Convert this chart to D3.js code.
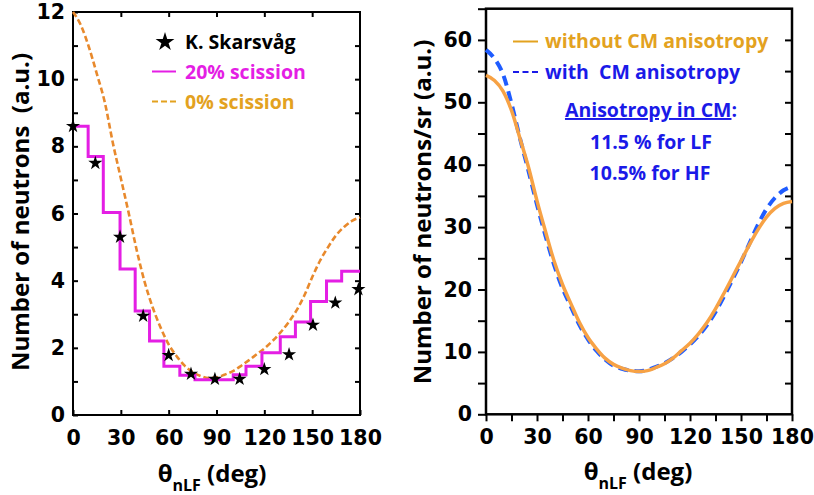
<!DOCTYPE html>
<html>
<head>
<meta charset="utf-8">
<script src="https://cdn.jsdelivr.net/npm/d3@7"></script>
<style>
  body { margin: 0; background: #fff; }
  svg { display: block; }
  .tick-label { font-family: 'DejaVu Sans', sans-serif; font-weight: bold; font-size: 20.5px; fill: #000; }
  .title { font-family: 'Open Sans', sans-serif; font-weight: bold; font-size: 24px; fill: #000; white-space: pre; }
  .legend { font-family: 'Open Sans', sans-serif; font-weight: bold; font-size: 19.5px; white-space: pre; }
</style>
</head>
<body>
<div id="wrapper"></div>
<script>
// ---------------------------------------------------
// DATA
// ---------------------------------------------------
const angleTicks = [0, 30, 60, 90, 120, 150, 180]

// left panel: K. Skarsvag data points
const starAngles = [0, 14, 29.5, 44, 60, 74, 89, 104.5, 120, 135.5, 150.5, 164.5, 179]
const starCounts = [8.6, 7.5, 5.3, 2.95, 1.78, 1.22, 1.07, 1.07, 1.36, 1.8, 2.68, 3.34, 3.74]

// left panel: 20% scission histogram (bin edges + heights)
const binEdges = [0, 9.5, 19, 29.5, 39, 48, 57, 67, 76.5, 100.5, 108.5, 118.5, 130, 139.5, 149, 159, 168.5, 180]
const binCounts = [8.6, 7.7, 6.03, 4.35, 3.1, 2.2, 1.45, 1.18, 1.05, 1.2, 1.45, 1.85, 2.33, 2.77, 3.38, 3.99, 4.28]

// left panel: 0% scission curve
const curveAngles = [0, 5, 10, 15, 20, 25, 30, 35, 40, 45, 50, 55, 60, 65, 70, 75, 80, 85, 90,
  95, 100, 105, 110, 115, 120, 125, 130, 135, 140, 145, 150, 155, 160, 165, 170, 175, 180]
const noScission = [12.0, 11.6, 10.95, 10.15, 9.3, 8.1, 7.05, 6.0, 4.9, 3.95, 3.2, 2.6, 2.1, 1.75, 1.47, 1.28, 1.16, 1.1, 1.12,
  1.2, 1.3, 1.45, 1.62, 1.8, 1.98, 2.2, 2.45, 2.75, 3.1, 3.55, 4.1, 4.6, 5.0, 5.35, 5.6, 5.78, 5.88]

// right panel: neutrons / sr
const withoutCM = [54.3, 53.5, 51.8, 48.7, 44.2, 39.6, 34.2, 29.3, 24.6, 20.8, 17.7, 14.7, 12.3, 10.5, 9.0, 8.0, 7.4, 7.0, 6.85,
  7.0, 7.5, 8.1, 9.0, 10.2, 11.4, 12.9, 14.7, 16.9, 19.4, 22.0, 24.6, 27.2, 29.6, 31.6, 33.0, 33.8, 34.1]
const withCM = [58.4, 57.0, 54.5, 49.8, 44.2, 39.0, 33.6, 28.6, 24.0, 20.2, 17.2, 14.3, 12.0, 10.2, 8.8, 7.8, 7.3, 7.0, 6.9,
  7.1, 7.6, 8.2, 9.0, 10.0, 11.2, 12.6, 14.3, 16.4, 18.9, 21.6, 24.4, 27.4, 30.4, 32.9, 34.7, 35.9, 36.5]

const leftYTicks = [0, 1, 2, 3, 4, 5, 6, 7, 8, 9, 10, 11, 12]
const rightYTicks = [0, 5, 10, 15, 20, 25, 30, 35, 40, 45, 50, 55, 60, 65]
const rightXTicks = [0, 15, 30, 45, 60, 75, 90, 105, 120, 135, 150, 165, 180]

// ---------------------------------------------------
// CANVAS
// ---------------------------------------------------
const width = 814
const height = 495
const svg = d3.select('#wrapper').append('svg').attr('width', width).attr('height', height)

const magenta = '#e41ee4'
const orangeDash = '#e8892c'
const orangeSolid = '#f7a245'
const blueDash = '#1f5cff'
const blueText = '#1a1ae8'
const goldText = '#e3a21f'

function styleAxis(g) {
  g.select('.domain').remove()
  g.selectAll('.tick line').attr('stroke', '#000').attr('stroke-width', 2)
  g.selectAll('.tick text').attr('class', 'tick-label').attr('font-size', null).attr('font-family', null)
}

function xTitle(x, y) {
  const t = svg.append('text').attr('class', 'title').attr('x', x).attr('y', y).attr('text-anchor', 'middle')
  t.append('tspan').text('θ')
  t.append('tspan').attr('dy', 9).attr('font-size', 16).text('nLF')
  t.append('tspan').attr('dy', -9).text(' (deg)')
}

// ---------------------------------------------------
// LEFT PANEL
// ---------------------------------------------------
{
  const x = d3.scaleLinear().domain([0, 180]).range([73, 360])
  const y = d3.scaleLinear().domain([0, 12]).range([415, 12])
  const g = svg.append('g')

  g.append('g').attr('transform', `translate(0,${y(0)})`)
    .call(d3.axisBottom(x).tickValues(angleTicks).tickSizeInner(-5).tickSizeOuter(0).tickPadding(15))
    .call(styleAxis)
  g.append('g').attr('transform', `translate(0,${y(12)})`)
    .call(d3.axisTop(x).tickValues(angleTicks.slice(1, -1)).tickSize(-5).tickFormat(''))
    .call(styleAxis)
  g.append('g').attr('transform', `translate(${x(0)},0)`)
    .call(d3.axisLeft(y).tickValues(leftYTicks).tickSizeInner(-5).tickSizeOuter(0).tickPadding(8)
      .tickFormat((d) => (d % 2 === 0 ? d : '')))
    .call(styleAxis)
  g.append('g').attr('transform', `translate(${x(180)},0)`)
    .call(d3.axisRight(y).tickValues(leftYTicks.slice(1, -1)).tickSize(-5).tickFormat(''))
    .call(styleAxis)

  g.append('rect')
    .attr('x', x(0)).attr('y', y(12))
    .attr('width', x(180) - x(0)).attr('height', y(0) - y(12))
    .attr('fill', 'none').attr('stroke', '#000').attr('stroke-width', 2)

  // 0% scission
  const line = d3.line().x((d) => x(d[0])).y((d) => y(d[1])).curve(d3.curveMonotoneX)
  g.append('path')
    .datum(curveAngles.map((a, i) => [a, noScission[i]]))
    .attr('d', line)
    .attr('fill', 'none').attr('stroke', orangeDash).attr('stroke-width', 2.6)
    .attr('stroke-dasharray', '6,3')

  // 20% scission histogram
  const steps = []
  binCounts.forEach((c, i) => { steps.push([binEdges[i], c]); steps.push([binEdges[i + 1], c]) })
  g.append('path')
    .datum(steps)
    .attr('d', d3.line().x((d) => x(d[0])).y((d) => y(d[1])))
    .attr('fill', 'none').attr('stroke', magenta).attr('stroke-width', 3)

  // data stars
  const star = d3.symbol().type(d3.symbolStar).size(62)
  g.selectAll('.star')
    .data(starAngles.map((a, i) => [a, starCounts[i]]))
    .join('path')
    .attr('class', 'star')
    .attr('d', star)
    .attr('transform', (d) => `translate(${x(d[0])},${y(d[1])})`)
    .attr('fill', '#000')

  // legend
  g.append('path').attr('d', d3.symbol().type(d3.symbolStar).size(110))
    .attr('transform', 'translate(165,42)').attr('fill', '#000')
  g.append('text').attr('class', 'legend').attr('x', 185).attr('y', 49).attr('fill', '#000').text('K. Skarsvåg')
  g.append('line').attr('x1', 152).attr('x2', 176).attr('y1', 71.5).attr('y2', 71.5)
    .attr('stroke', magenta).attr('stroke-width', 2)
  g.append('text').attr('class', 'legend').attr('x', 185).attr('y', 79).attr('fill', magenta).text('20% scission')
  g.append('line').attr('x1', 152).attr('x2', 176).attr('y1', 101.5).attr('y2', 101.5)
    .attr('stroke', goldText).attr('stroke-width', 2).attr('stroke-dasharray', '6,3')
  g.append('text').attr('class', 'legend').attr('x', 185).attr('y', 109).attr('fill', goldText).text('0% scission')

  // titles
  svg.append('text').attr('class', 'title')
    .attr('transform', 'translate(29,212) rotate(-90)')
    .attr('text-anchor', 'middle')
    .text('Number of neutrons  (a.u.)')
  xTitle(212, 482)
}

// ---------------------------------------------------
// RIGHT PANEL
// ---------------------------------------------------
{
  const x = d3.scaleLinear().domain([0, 180]).range([486, 792])
  const y = d3.scaleLinear().domain([0, 65]).range([414.3, 8.7])
  const g = svg.append('g')

  g.append('g').attr('transform', `translate(0,${y(0)})`)
    .call(d3.axisBottom(x).tickValues(rightXTicks).tickSizeInner(7).tickSizeOuter(0).tickPadding(8)
      .tickFormat((d) => (d % 30 === 0 ? d : '')))
    .call(styleAxis)
  g.append('g').attr('transform', `translate(${x(0)},0)`)
    .call(d3.axisLeft(y).tickValues(rightYTicks).tickSizeInner(8).tickSizeOuter(0).tickPadding(6)
      .tickFormat((d) => (d % 10 === 0 ? d : '')))
    .call(styleAxis)
  g.append('g').attr('transform', `translate(${x(180)},0)`)
    .call(d3.axisRight(y).tickValues(rightYTicks.slice(1, -1)).tickSize(-7).tickFormat(''))
    .call(styleAxis)

  g.append('rect')
    .attr('x', x(0)).attr('y', y(65))
    .attr('width', x(180) - x(0)).attr('height', y(0) - y(65))
    .attr('fill', 'none').attr('stroke', '#000').attr('stroke-width', 2.5)

  const line = d3.line().x((d) => x(d[0])).y((d) => y(d[1])).curve(d3.curveMonotoneX)
  g.append('path')
    .datum(curveAngles.map((a, i) => [a, withCM[i]]))
    .attr('d', line)
    .attr('fill', 'none').attr('stroke', blueDash).attr('stroke-width', 4)
    .attr('stroke-dasharray', '10,6')
  g.append('path')
    .datum(curveAngles.map((a, i) => [a, withoutCM[i]]))
    .attr('d', line)
    .attr('fill', 'none').attr('stroke', orangeSolid).attr('stroke-width', 3.5)

  // legend
  g.append('line').attr('x1', 513).attr('x2', 538).attr('y1', 41.5).attr('y2', 41.5)
    .attr('stroke', goldText).attr('stroke-width', 2)
  g.append('text').attr('class', 'legend').attr('x', 545).attr('y', 48).attr('fill', goldText)
    .attr('font-size', 19).text('without CM anisotropy')
  g.append('line').attr('x1', 513).attr('x2', 538).attr('y1', 72).attr('y2', 72)
    .attr('stroke', blueText).attr('stroke-width', 2).attr('stroke-dasharray', '6,3.5')
  g.append('text').attr('class', 'legend').attr('x', 545).attr('y', 79).attr('fill', blueText)
    .text('with  CM anisotropy')

  const note = g.append('text').attr('class', 'legend').attr('x', 651).attr('y', 117)
    .attr('text-anchor', 'middle').attr('fill', blueText)
  note.append('tspan').attr('text-decoration', 'underline').text('Anisotropy in CM')
  note.append('tspan').text(':')
  g.append('text').attr('class', 'legend').attr('x', 651).attr('y', 149)
    .attr('text-anchor', 'middle').attr('fill', blueText).text('11.5 % for LF')
  g.append('text').attr('class', 'legend').attr('x', 650).attr('y', 180)
    .attr('text-anchor', 'middle').attr('fill', blueText).text('10.5% for HF')

  svg.append('text').attr('class', 'title')
    .attr('transform', 'translate(431,212) rotate(-90)')
    .attr('text-anchor', 'middle')
    .text('Number of neutrons/sr (a.u.)')
  xTitle(638, 480)
}
</script>
</body>
</html>
